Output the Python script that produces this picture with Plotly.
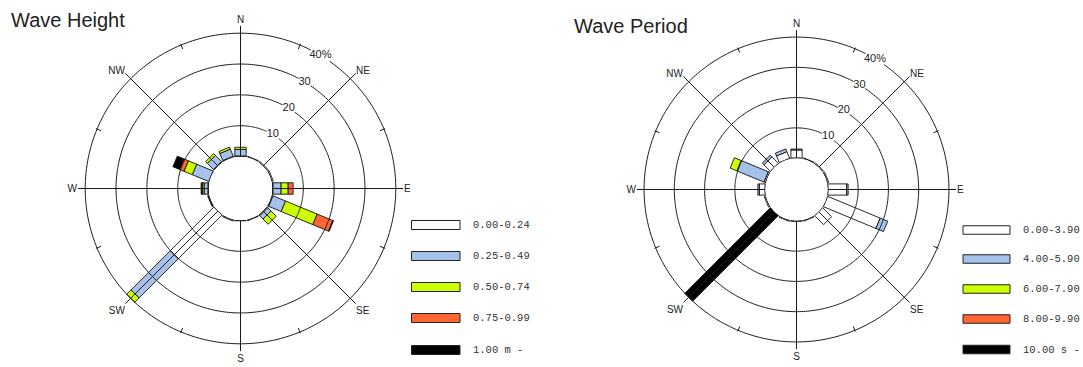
import numpy as np
import plotly.graph_objects as go

# ---------------- data ----------------
directions = ["N", "NNE", "NE", "ENE", "E", "ESE", "SE", "SSE",
              "S", "SSW", "SW", "WSW", "W", "WNW", "NW", "NNW"]
bearings = [0, 22.5, 45, 67.5, 90, 112.5, 135, 157.5,
            180, 202.5, 225, 247.5, 270, 292.5, 315, 337.5]

# Wave height frequency (%) per class
h_white  = [0.2, 0.2, 0.3, 0.4, 0.2, 0.3, 0.3, 0.2, 0.1, 0.3, 20.0, 0.2, 0.2, 0.0, 0.2, 0.2]
h_blue   = [2.1, 0.0, 0.0, 0.0, 2.6, 4.4, 1.5, 0.0, 0.0, 0.0, 18.0, 0.2, 1.2, 5.8, 2.8, 2.5]
h_green  = [0.7, 0.0, 0.0, 0.0, 2.3, 11.1, 2.4, 0.0, 0.0, 0.0, 2.0, 0.0, 0.5, 2.9, 0.8, 0.7]
h_orange = [0.0, 0.0, 0.0, 0.0, 1.6, 5.5, 0.0, 0.0, 0.0, 0.0, 0.0, 0.0, 0.3, 1.6, 0.0, 0.0]
h_black  = [0.0, 0.0, 0.0, 0.0, 0.0, 0.2, 0.0, 0.0, 0.0, 0.0, 0.0, 0.0, 0.2, 2.3, 0.0, 0.0]

# Wave period frequency (%) per class
p_white  = [2.7, 0.2, 0.3, 0.4, 6.2, 18.8, 4.2, 0.2, 0.1, 0.3, 0.0, 0.4, 1.9, 0.5, 3.0, 2.4]
p_blue   = [0.3, 0.0, 0.0, 0.0, 0.5, 2.7, 0.0, 0.0, 0.0, 0.0, 0.0, 0.0, 0.5, 9.7, 0.8, 1.0]
p_green  = [0.0, 0.0, 0.0, 0.0, 0.0, 0.0, 0.0, 0.0, 0.0, 0.0, 0.0, 0.0, 0.0, 2.4, 0.0, 0.0]
p_orange = [0.0] * 16
p_black  = [0.0, 0.0, 0.0, 0.0, 0.0, 0.0, 0.0, 0.0, 0.0, 0.0, 40.0, 0.0, 0.0, 0.0, 0.0, 0.0]

height_labels = ["0.00-0.24", "0.25-0.49", "0.50-0.74", "0.75-0.99", "1.00 m -"]
period_labels = ["0.00-3.90", "4.00-5.90", "6.00-7.90", "8.00-9.90", "10.00 s -"]
class_colors = ["#ffffff", "#a6c2ea", "#ccff00", "#ff6633", "#000000"]

ring_vals = [10, 20, 30, 40]
ring_text = ["10", "20", "30", "40%"]
spoke_angles = [0, 45, 90, 135, 180, 225, 270, 315]
spoke_labels = ["N", "NE", "E", "SE", "S", "SW", "W", "NW"]
minor_ticks = [22.5, 67.5, 112.5, 157.5, 202.5, 247.5, 292.5, 337.5]
label_bearing = 31

# ---------------- geometry settings ----------------
W_PX, H_PX = 1083, 367
RMAX = 42.5
HOLE = 0.196
HOLE_U = HOLE * RMAX / (1 - HOLE)   # hole radius in data units
HALF_W = 1.85                        # half bar width in data units
LABEL_W = {"10": 4.6, "20": 4.6, "30": 4.6, "40%": 7.2}  # label width in data units

def px_x(x):
    return x / W_PX

def px_y(y):
    return 1 - y / H_PX

def rect(bearing, v0, v1):
    rs, ts = [], []
    for D, s in [(HOLE_U + v0, -1), (HOLE_U + v1, -1), (HOLE_U + v1, 1), (HOLE_U + v0, 1), (HOLE_U + v0, -1)]:
        rs.append(float(np.hypot(D, HALF_W) - HOLE_U))
        ts.append(float(bearing + s * np.degrees(np.arctan2(HALF_W, D))))
    return rs, ts

fig = go.Figure()
GRID = dict(color="#1a1a1a", width=1)
FONT_NARROW = "Liberation Sans Narrow, Arial Narrow, Liberation Sans, sans-serif"

def add_rose(series, polar_name):
    cum = np.zeros(16)
    for ci, vals in enumerate(series):
        for i in range(16):
            v = vals[i]
            if v <= 0:
                continue
            rs, ts = rect(bearings[i], cum[i], cum[i] + v)
            fig.add_trace(go.Scatterpolar(
                r=rs, theta=ts, mode="lines", fill="toself",
                fillcolor=class_colors[ci],
                line=dict(color="#111111", width=0.9),
                subplot=polar_name, showlegend=False, hoverinfo="skip"))
            cum[i] += v
    # grid drawn above bars; rings leave a gap where the ring label sits
    for rv, rt in zip(ring_vals, ring_text):
        gap = np.degrees(LABEL_W[rt] / (HOLE_U + rv)) / 2
        circ = np.linspace(label_bearing + gap, label_bearing + 360 - gap, 361)
        fig.add_trace(go.Scatterpolar(
            r=[rv] * len(circ), theta=circ, mode="lines", line=GRID,
            subplot=polar_name, showlegend=False, hoverinfo="skip"))
    fig.add_trace(go.Scatterpolar(
        r=ring_vals, theta=[label_bearing] * len(ring_vals), mode="text",
        text=ring_text, textposition="middle center",
        textfont=dict(family=FONT_NARROW, size=11, color="#222222"),
        subplot=polar_name, showlegend=False, hoverinfo="skip"))
    for a in spoke_angles:
        fig.add_trace(go.Scatterpolar(
            r=[0, RMAX], theta=[a, a], mode="lines", line=GRID,
            subplot=polar_name, showlegend=False, hoverinfo="skip"))
    for a in minor_ticks:
        fig.add_trace(go.Scatterpolar(
            r=[38.6, 40.4], theta=[a, a], mode="lines", line=GRID,
            subplot=polar_name, showlegend=False, hoverinfo="skip"))
    circ = np.linspace(0, 360, 361)
    fig.add_trace(go.Scatterpolar(
        r=[0] * len(circ), theta=circ, mode="lines", line=GRID,
        subplot=polar_name, showlegend=False, hoverinfo="skip"))

add_rose([h_white, h_blue, h_green, h_orange, h_black], "polar")
add_rose([p_white, p_blue, p_green, p_orange, p_black], "polar2")

def polar_layout(cx, cy, R):
    return dict(
        domain=dict(x=[px_x(cx - R), px_x(cx + R)], y=[px_y(cy + R), px_y(cy - R)]),
        hole=HOLE,
        bgcolor="rgba(0,0,0,0)",
        radialaxis=dict(range=[0, RMAX], tickvals=ring_vals, showline=False, ticks="",
                        showgrid=False, showticklabels=False),
        angularaxis=dict(rotation=90, direction="clockwise", tickmode="array",
                         tickvals=spoke_angles, ticktext=spoke_labels,
                         showline=False, ticks="", showgrid=False,
                         tickfont=dict(family=FONT_NARROW, size=10, color="#222222")),
    )

shapes = []
annotations = []

def add_legend(x0, x1, tx, rows, hgt, labels):
    for ci, (yc, lab) in enumerate(zip(rows, labels)):
        shapes.append(dict(type="rect", xref="paper", yref="paper",
                           x0=px_x(x0), x1=px_x(x1), y0=px_y(yc + hgt / 2), y1=px_y(yc - hgt / 2),
                           fillcolor=class_colors[ci], line=dict(color="#222222", width=1)))
        annotations.append(dict(text=lab, xref="paper", yref="paper", x=px_x(tx), y=px_y(yc),
                                xanchor="left", yanchor="middle", showarrow=False,
                                font=dict(family="Liberation Mono, monospace", size=10.5, color="#333333")))

add_legend(411.5, 460, 471, [225, 256, 287, 318, 350], 9, height_labels)
add_legend(963, 1010, 1021, [230, 259, 289, 319, 349.5], 8.5, period_labels)

annotations.append(dict(text="Wave Height", xref="paper", yref="paper", x=px_x(9), y=px_y(20),
                        xanchor="left", yanchor="middle", showarrow=False,
                        font=dict(family="Liberation Sans, Arial, sans-serif", size=20, color="#222222")))
annotations.append(dict(text="Wave Period", xref="paper", yref="paper", x=px_x(572), y=px_y(26),
                        xanchor="left", yanchor="middle", showarrow=False,
                        font=dict(family="Liberation Sans, Arial, sans-serif", size=20, color="#222222")))

fig.update_layout(
    width=W_PX, height=H_PX,
    margin=dict(l=0, r=0, t=0, b=0),
    paper_bgcolor="white", plot_bgcolor="white",
    polar=polar_layout(240.5, 188.5, 163),
    polar2=polar_layout(796.5, 189.5, 160),
    shapes=shapes, annotations=annotations,
    showlegend=False,
)

fig.write_html("out.html")
